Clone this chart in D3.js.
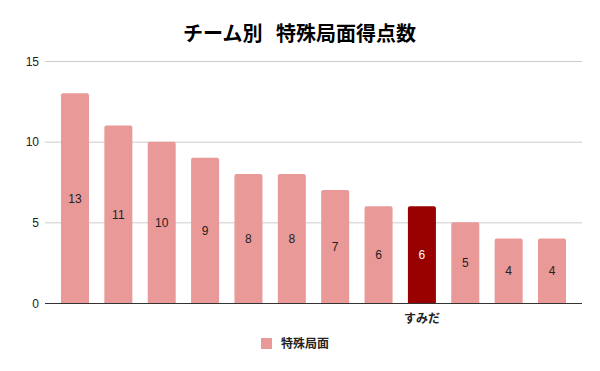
<!DOCTYPE html>
<html>
<head>
<meta charset="utf-8">
<script src="https://cdn.jsdelivr.net/npm/d3@7"></script>
<style>
  body { margin: 0; background: #fff; }
  text { font-family: "Liberation Sans", Arial, sans-serif; }
</style>
</head>
<body>
<div id="chart"></div>
<script>
// chart values
var teams = ["t1", "t2", "t3", "t4", "t5", "t6", "t7", "t8", "すみだ", "t10", "t11", "t12"];
var teamLabels = ["", "", "", "", "", "", "", "", "すみだ", "", "", ""];
var scores = [13, 11, 10, 9, 8, 8, 7, 6, 6, 5, 4, 4];
var yTicks = [0, 5, 10, 15];
var highlight = "すみだ";

var svgWidth = 600;
var svgHeight = 371;

var svg = d3.select("#chart")
  .append("svg")
  .attr("width", svgWidth)
  .attr("height", svgHeight);

var x = d3.scaleBand()
  .domain(teams)
  .range([53.3, 573.7])
  .paddingInner(0.354)
  .paddingOuter(0.177);

var y = d3.scaleLinear()
  .domain([0, 15])
  .range([303, 61]);

// title
svg.append("text")
  .attr("x", 299.5)
  .attr("y", 41)
  .attr("text-anchor", "middle")
  .attr("font-size", "20px")
  .attr("font-weight", "bold")
  .attr("fill", "#000")
  .attr("xml:space", "preserve")
  .style("white-space", "pre")
  .style("font-family", "'Noto Sans CJK JP', sans-serif")
  .text("チーム別   特殊局面得点数");

// gridlines + y labels
var grid = svg.append("g");
grid.selectAll("line")
  .data(yTicks.filter(d => d > 0))
  .enter()
  .append("line")
  .attr("x1", 45)
  .attr("x2", 582)
  .attr("y1", d => y(d) + 0.5)
  .attr("y2", d => y(d) + 0.5)
  .attr("stroke", "#cccccc")
  .attr("stroke-width", 1);

grid.selectAll("text")
  .data(yTicks)
  .enter()
  .append("text")
  .attr("x", 39)
  .attr("y", d => y(d) + 4.5)
  .attr("text-anchor", "end")
  .attr("font-size", "12px")
  .attr("fill", "#222")
  .text(d => d);

// bars with slightly rounded tops
function barPath(d, i) {
  var x0 = x(teams[i]);
  var w = x.bandwidth();
  var top = y(d);
  var bottom = y(0);
  var r = 2;
  return "M" + x0 + "," + bottom +
    "V" + (top + r) +
    "Q" + x0 + "," + top + " " + (x0 + r) + "," + top +
    "H" + (x0 + w - r) +
    "Q" + (x0 + w) + "," + top + " " + (x0 + w) + "," + (top + r) +
    "V" + bottom + "Z";
}

svg.append("g")
  .selectAll("path")
  .data(scores)
  .enter()
  .append("path")
  .attr("d", barPath)
  .attr("fill", (d, i) => teams[i] === highlight ? "#990000" : "#ea9999");

// value labels
svg.append("g")
  .selectAll("text")
  .data(scores)
  .enter()
  .append("text")
  .attr("x", (d, i) => x(teams[i]) + x.bandwidth() / 2)
  .attr("y", d => (y(d) + y(0)) / 2 + 4.5)
  .attr("text-anchor", "middle")
  .attr("font-size", "12px")
  .attr("fill", (d, i) => teams[i] === highlight ? "#ffffff" : "#222")
  .text(d => d);

// baseline
svg.append("line")
  .attr("x1", 45)
  .attr("x2", 582)
  .attr("y1", y(0) + 0.5)
  .attr("y2", y(0) + 0.5)
  .attr("stroke", "#333")
  .attr("stroke-width", 1);

// category labels
svg.append("g")
  .selectAll("text")
  .data(teams)
  .enter()
  .append("text")
  .attr("x", d => x(d) + x.bandwidth() / 2)
  .attr("y", 323)
  .attr("text-anchor", "middle")
  .attr("font-size", "12px")
  .attr("font-weight", "bold")
  .attr("fill", "#222")
  .style("font-family", "'Noto Sans CJK JP', sans-serif")
  .text((d, i) => teamLabels[i]);

// legend
var legend = svg.append("g");
legend.append("rect")
  .attr("x", 261)
  .attr("y", 338)
  .attr("width", 11)
  .attr("height", 11)
  .attr("fill", "#ea9999");
legend.append("text")
  .attr("x", 281)
  .attr("y", 348)
  .attr("font-size", "12px")
  .attr("font-weight", "bold")
  .attr("fill", "#222")
  .style("font-family", "'Noto Sans CJK JP', sans-serif")
  .text("特殊局面");
</script>
</body>
</html>
